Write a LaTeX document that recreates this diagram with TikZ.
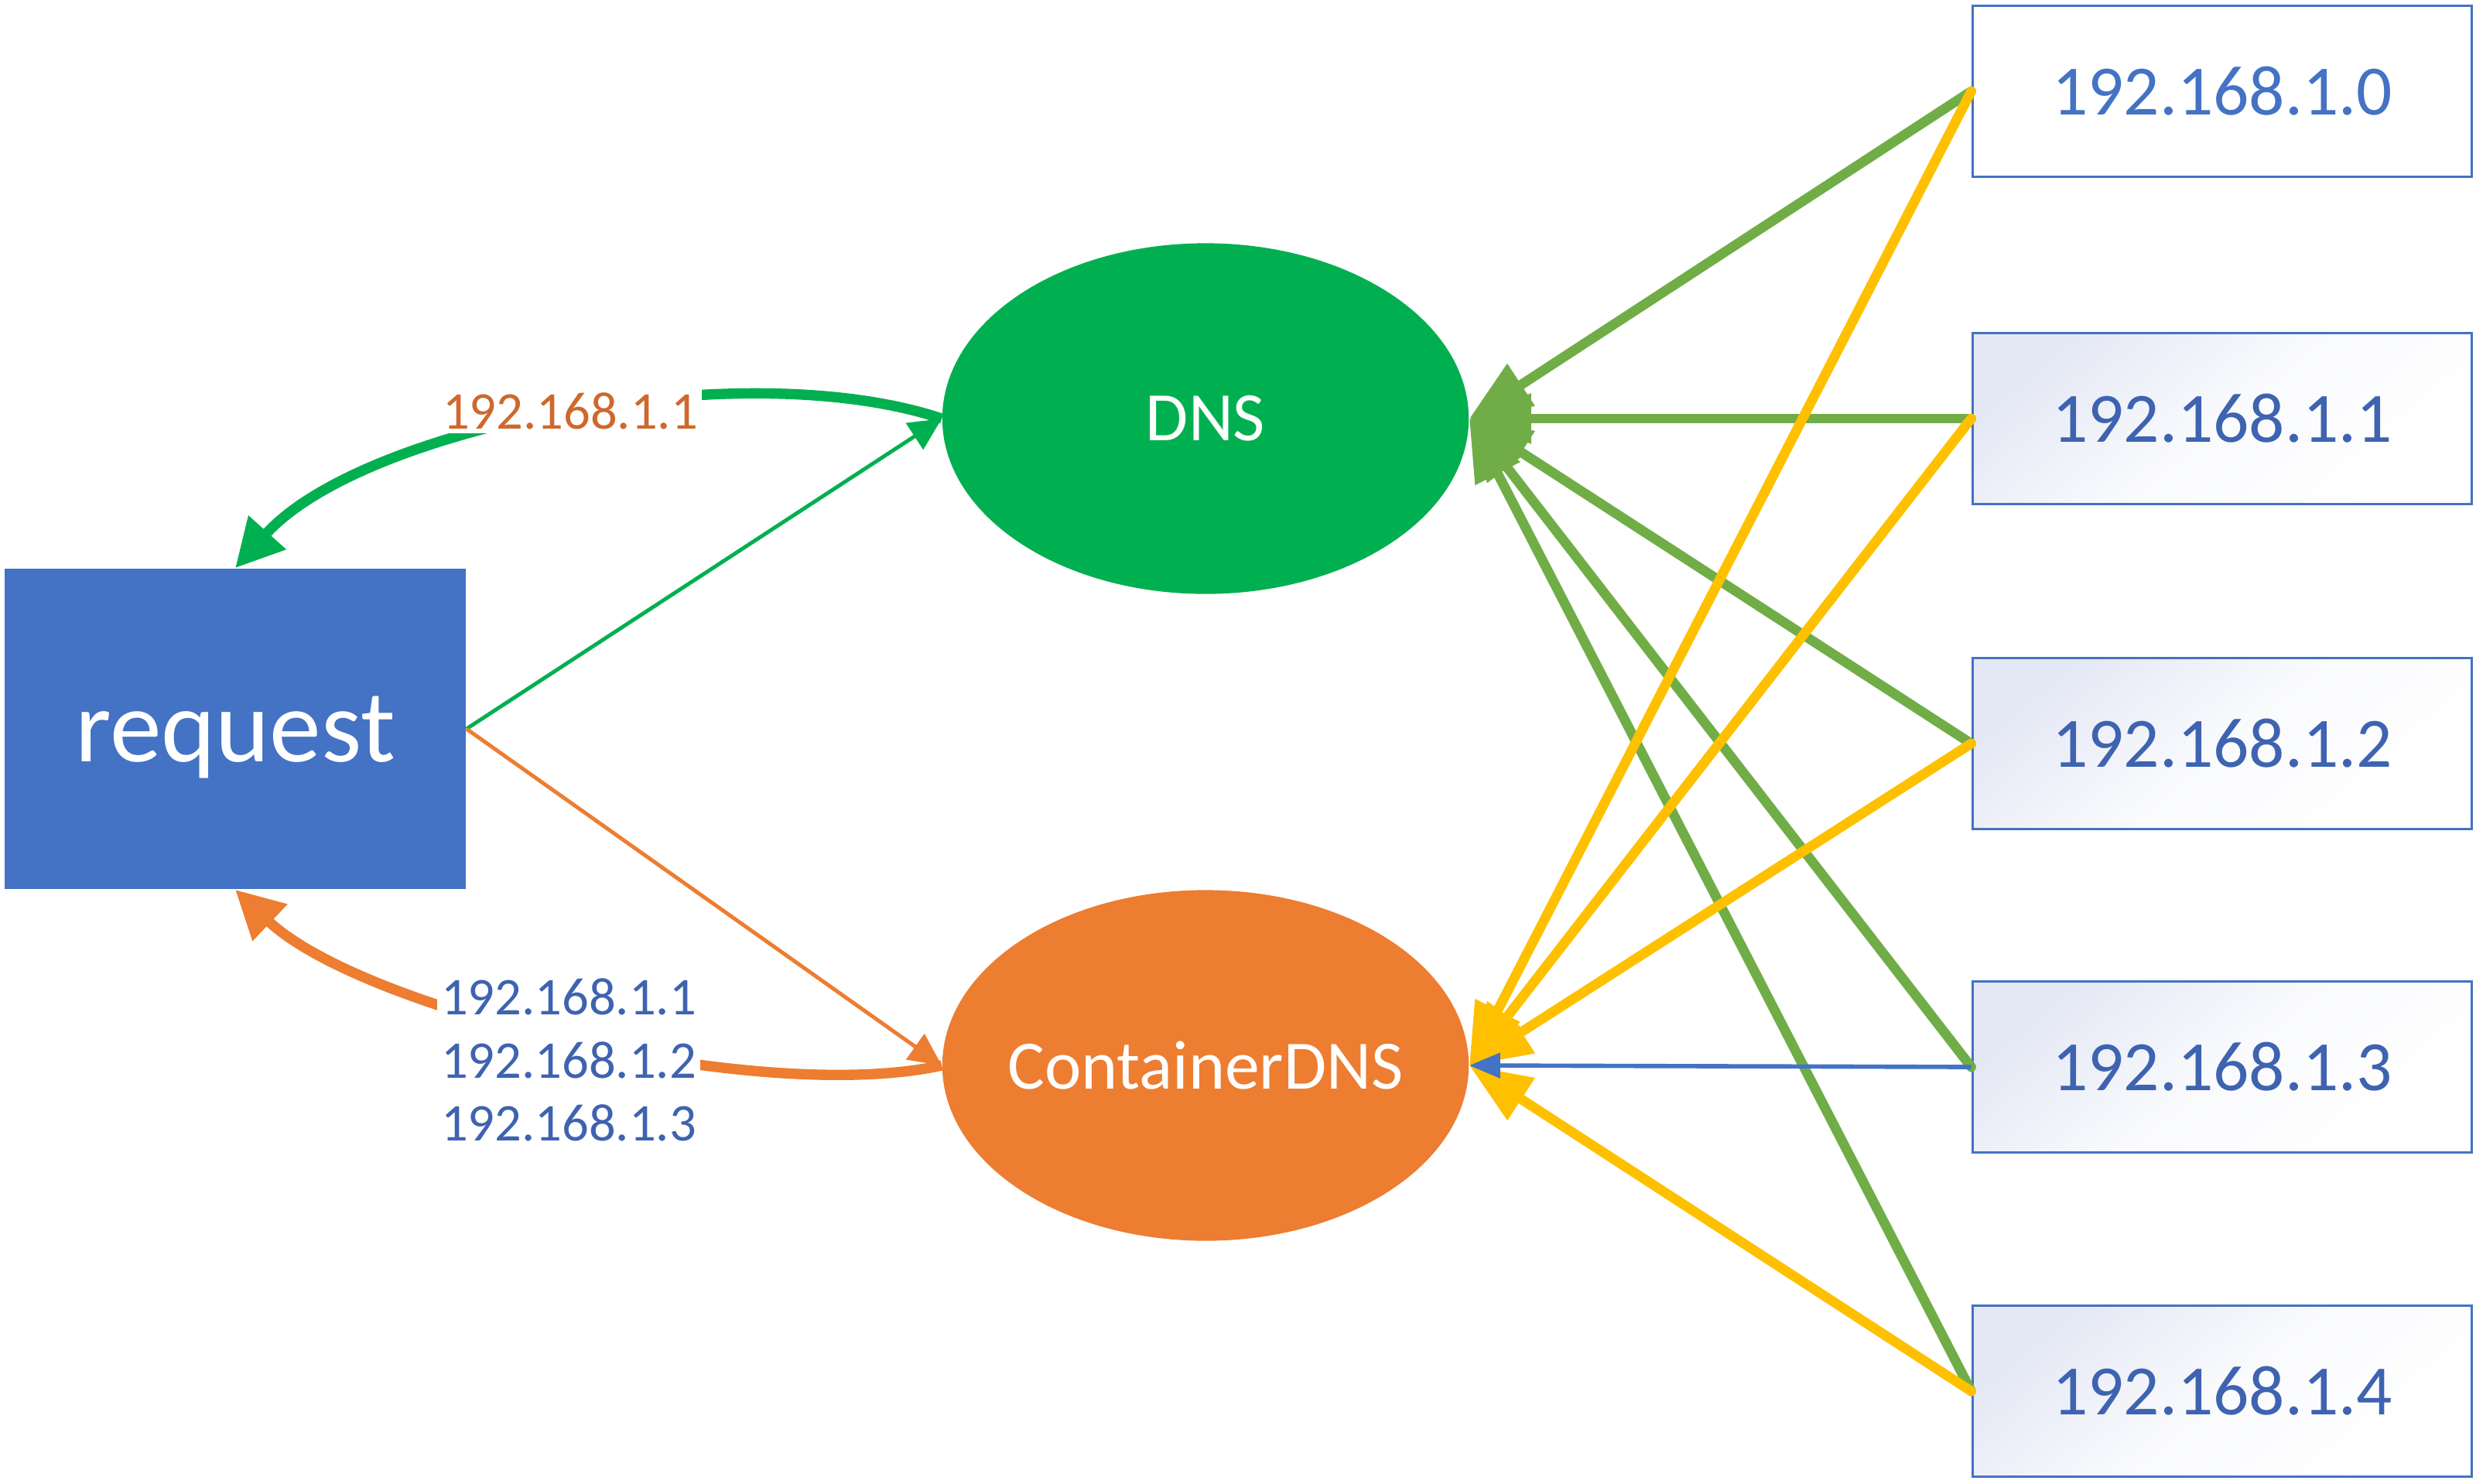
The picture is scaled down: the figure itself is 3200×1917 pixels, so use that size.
\documentclass[tikz,border=0pt]{standalone}
\usepackage{fontspec}
\setmainfont{Carlito}
\usetikzlibrary{arrows.meta,shapes.geometric}

\definecolor{reqblue}{HTML}{4472C4}
\definecolor{dnsgreen}{HTML}{00B050}
\definecolor{linegreen}{HTML}{70AD47}
\definecolor{cdnsorange}{HTML}{ED7D31}
\definecolor{ipyellow}{HTML}{FFC000}
\definecolor{iptext}{HTML}{3E63B0}
\definecolor{labelorange}{RGB}{207,104,44}
\definecolor{ipshade}{RGB}{228,232,245}

\tikzset{
  reqbox/.style={rectangle, fill=reqblue, minimum width=5.96cm, minimum height=4.14cm,
    inner sep=0pt, text depth=0pt, text=white, font=\fontsize{38}{44}\selectfont},
  dnsell/.style={ellipse, minimum width=6.8cm, minimum height=4.53cm, inner ysep=0pt,
    inner xsep=-0.6cm, text=white, font=\fontsize{25.5}{30}\selectfont},
  ipbox/.style={rectangle, draw=reqblue, line width=1pt, minimum width=6.45cm,
    minimum height=2.21cm, inner sep=0pt, font=\fontsize{26}{30}\selectfont},
  ipplain/.style={ipbox, fill=white, text=reqblue},
  ipshaded/.style={ipbox, text=iptext, top color=ipshade, bottom color=white,
    middle color=white!80!ipshade, shading angle=40},
  lbl/.style={fill=white, inner sep=1.5pt, font=\fontsize{19.5}{23.2}\selectfont},
  thinarrow/.style={line width=1.4pt, -{Triangle[length=0.42cm,width=0.4cm]}},
  curvearrow/.style={line width=3.8pt, -{Triangle[length=0.62cm,width=0.62cm]}},
  fanline/.style={line width=3.6pt, line cap=round, -{Triangle[length=0.8cm,width=0.62cm]}},
  blueline/.style={line width=1.6pt, draw=reqblue, -{Triangle[length=0.4cm,width=0.32cm]}},
}

\begin{document}
\begin{tikzpicture}[x=0.01cm, y=-0.01cm]
\useasboundingbox (0,0) rectangle (3200,1917);
\fill[white] (0,0) rectangle (3200,1917);

% main nodes
\node[reqbox] (req) at (304,942) {request};
\node[dnsell, fill=dnsgreen] (dns) at (1558,541) {DNS};
\node[dnsell, fill=cdnsorange] (cdns) at (1558,1377) {ContainerDNS};

% address boxes
\node[ipplain]  (b0) at (2872,118)  {192.168.1.0};
\node[ipshaded] (b1) at (2872,541)  {192.168.1.1};
\node[ipshaded] (b2) at (2872,961)  {192.168.1.2};
\node[ipshaded] (b3) at (2872,1379) {192.168.1.3};
\node[ipshaded] (b4) at (2872,1798) {192.168.1.4};

% queries from the request
\draw[thinarrow, dnsgreen] (req.east) -- (dns.west);
\draw[thinarrow, cdnsorange] (req.east) -- (cdns.west);

% answers back to the request
\draw[curvearrow, dnsgreen] (dns.west) .. controls (959,455) and (469,551) .. (req.north);
\draw[curvearrow, cdnsorange] (cdns.west) .. controls (980,1429) and (469,1306) .. (req.south);

% answer labels
\node[lbl, text=labelorange] (ans1) at (737,531) {192.168.1.1};
\node[lbl, text=iptext, align=center] (ans2) at (735,1370) {192.168.1.1\\192.168.1.2\\192.168.1.3};

% all addresses feed DNS
\foreach \b in {b0,b1,b2,b3,b4}
  \draw[fanline, linegreen] (\b.west) -- (dns.east);

% healthy addresses feed ContainerDNS
\foreach \b in {b0,b1,b2,b4}
  \draw[fanline, ipyellow] (\b.west) -- (cdns.east);
\draw[blueline] (b3.west) -- (cdns.east);
\end{tikzpicture}
\end{document}
